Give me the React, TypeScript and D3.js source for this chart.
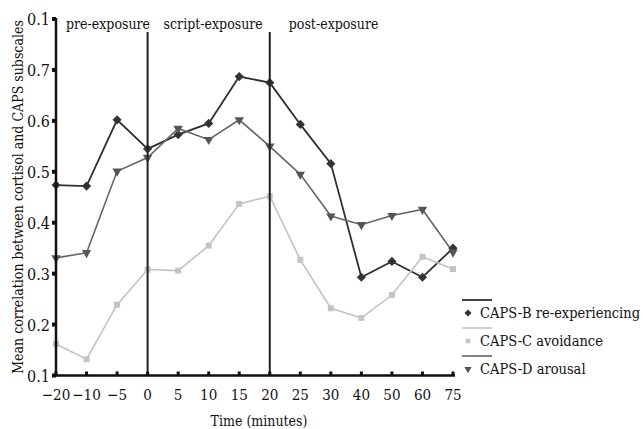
import React, { useEffect, useRef } from 'react'
import * as d3 from 'd3'

const TIME_LABELS = ['−20', '−10', '−5', '0', '5', '10', '15', '20', '25', '30', '40', '50', '60', '75']
const Y_TICKS = [0.1, 0.2, 0.3, 0.4, 0.5, 0.6, 0.7, 0.8]
const Y_TICK_LABELS = ['0.1', '0.2', '0.3', '0.4', '0.5', '0.6', '0.7', '0.1']

const CAPS_B = [0.474, 0.472, 0.602, 0.545, 0.573, 0.595, 0.687, 0.675, 0.593, 0.516, 0.293, 0.324, 0.293, 0.35]
const CAPS_C = [0.162, 0.132, 0.239, 0.308, 0.306, 0.355, 0.437, 0.452, 0.327, 0.232, 0.213, 0.258, 0.333, 0.309]
const CAPS_D = [0.331, 0.341, 0.501, 0.528, 0.585, 0.563, 0.602, 0.55, 0.495, 0.413, 0.396, 0.414, 0.426, 0.342]

const PHASES = [
  { label: 'pre-exposure', start: '−20' },
  { label: 'script-exposure', start: '0' },
  { label: 'post-exposure', start: '20' },
]
const DIVIDERS = ['0', '20']

const SERIES = [
  { name: 'CAPS-B re-experiencing', values: CAPS_B, line: '#2f2f2f', mark: '#333', symbol: d3.symbolSquare, size: 42, rotate: 45, width: 1.8 },
  { name: 'CAPS-C avoidance', values: CAPS_C, line: '#c2c2c2', mark: '#c4c4c4', symbol: d3.symbolSquare, size: 36, rotate: 0, width: 1.6 },
  { name: 'CAPS-D arousal', values: CAPS_D, line: '#666', mark: '#555', symbol: d3.symbolTriangle, size: 38, rotate: 180, width: 1.6 },
]

const FONT = '"DejaVu Serif", serif'

export default function App() {
  const svgRef = useRef<SVGSVGElement>(null)

  useEffect(() => {
    const width = 643
    const height = 429
    const left = 56
    const right = 453
    const top = 19
    const bottom = 375.5

    const svg = d3.select(svgRef.current)
    svg.selectAll('*').remove()
    svg.attr('viewBox', `0 0 ${width} ${height}`)
      .style('font-family', FONT)
      .style('font-stretch', 'condensed')

    const x = d3.scalePoint<string>().domain(TIME_LABELS).range([left, right])
    const y = d3.scaleLinear().domain([0.1, 0.8]).range([bottom, top])

    SERIES.forEach((s) => {
      const line = d3.line<number>()
        .x((_, i) => x(TIME_LABELS[i]) as number)
        .y((d) => y(d))
      svg.append('path')
        .attr('d', line(s.values))
        .attr('fill', 'none')
        .attr('stroke', s.line)
        .attr('stroke-width', s.width)
    })

    SERIES.forEach((s) => {
      const sym = d3.symbol().type(s.symbol).size(s.size)
      s.values.forEach((v, i) => {
        svg.append('path')
          .attr('d', sym())
          .attr('fill', s.mark)
          .attr('transform', `translate(${x(TIME_LABELS[i])},${y(v)}) rotate(${s.rotate})`)
      })
    })

    // phase dividers
    DIVIDERS.forEach((d) => {
      svg.append('line')
        .attr('x1', x(d) as number).attr('x2', x(d) as number)
        .attr('y1', 32).attr('y2', bottom)
        .attr('stroke', '#222').attr('stroke-width', 2)
    })

    const phaseDx = [10, 16, 19]
    PHASES.forEach((p, i) => {
      svg.append('text')
        .attr('x', (x(p.start) as number) + phaseDx[i])
        .attr('y', 29)
        .attr('font-size', 14)
        .attr('fill', '#111')
        .text(p.label)
    })

    // axes
    svg.append('line')
      .attr('x1', left).attr('x2', left)
      .attr('y1', top - 1).attr('y2', bottom + 1)
      .attr('stroke', '#111').attr('stroke-width', 2.5)
    svg.append('line')
      .attr('x1', left - 1).attr('x2', 455)
      .attr('y1', bottom).attr('y2', bottom)
      .attr('stroke', '#111').attr('stroke-width', 2.5)

    Y_TICKS.forEach((t, i) => {
      svg.append('rect')
        .attr('x', left - 4).attr('y', y(t) - 2)
        .attr('width', 4).attr('height', 4)
        .attr('fill', '#111')
      svg.append('text')
        .attr('x', 50).attr('y', y(t) + 6)
        .attr('text-anchor', 'end')
        .attr('font-size', 16)
        .attr('fill', '#111')
        .text(Y_TICK_LABELS[i])
    })

    TIME_LABELS.forEach((t) => {
      svg.append('rect')
        .attr('x', (x(t) as number) - 1.5).attr('y', bottom - 4)
        .attr('width', 3).attr('height', 4)
        .attr('fill', '#111')
      svg.append('text')
        .attr('x', x(t) as number).attr('y', 400)
        .attr('text-anchor', 'middle')
        .attr('font-size', 15)
        .attr('fill', '#111')
        .text(t)
    })

    svg.append('text')
      .attr('x', 259).attr('y', 426)
      .attr('text-anchor', 'middle')
      .attr('font-size', 14)
      .attr('fill', '#111')
      .text('Time (minutes)')

    svg.append('text')
      .attr('transform', `translate(23,197) rotate(-90)`)
      .attr('text-anchor', 'middle')
      .attr('font-size', 14)
      .attr('fill', '#111')
      .text('Mean correlation between cortisol and CAPS subscales')

    // legend
    SERIES.forEach((s, i) => {
      const ly = 300 + i * 28
      svg.append('line')
        .attr('x1', 462).attr('x2', 492)
        .attr('y1', ly).attr('y2', ly)
        .attr('stroke', s.line).attr('stroke-width', s.width)
      svg.append('path')
        .attr('d', d3.symbol().type(s.symbol).size(s.size * 0.6)())
        .attr('fill', s.mark)
        .attr('transform', `translate(468,${ly + 13}) rotate(${s.rotate})`)
      svg.append('text')
        .attr('x', 480).attr('y', ly + 18)
        .attr('font-size', 14.5)
        .attr('fill', '#111')
        .text(s.name)
    })
  }, [])

  return (
    <svg
      ref={svgRef}
      width={643}
      height={429}
      style={{ position: 'absolute', left: 0, top: 0, background: '#fff' }}
    />
  )
}
